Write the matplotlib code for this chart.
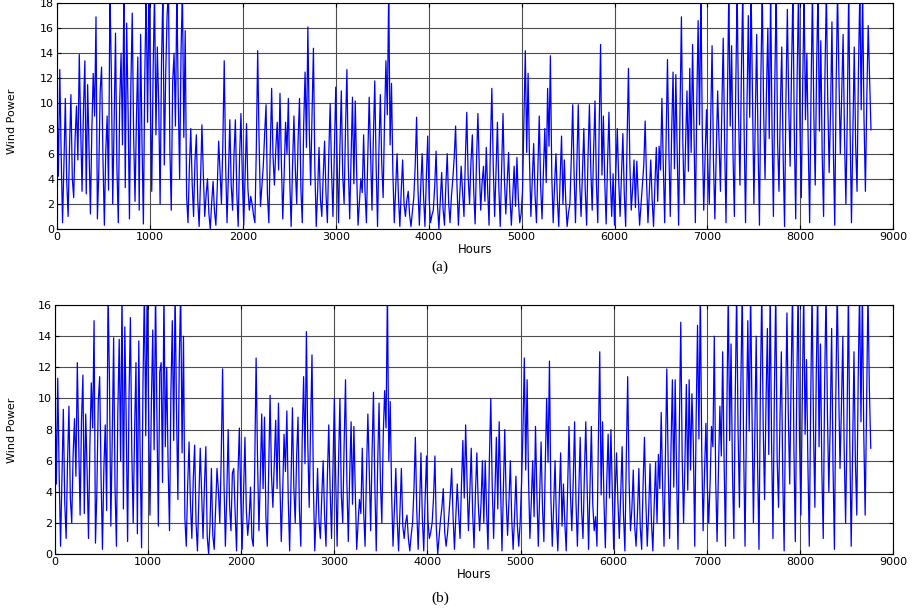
import numpy as np
import matplotlib
matplotlib.use('Agg')
import matplotlib.pyplot as plt

# hourly wind power at roughly 15 h spacing (peaks/troughs)
wind_a = [
    10.3, 4.2, 12.7, 6.0, 0.5, 5.2, 10.4, 3.8, 1.0, 6.5, 10.7, 4.0, 2.5, 7.2, 9.8, 5.5, 13.9, 8.1,
    3.0, 9.5, 13.4, 2.8, 11.5, 6.3, 1.2, 7.8, 12.4, 9.0, 16.9, 0.8, 4.5, 11.0, 12.9, 5.6, 0.3, 6.2,
    9.0, 3.1, 19, 12.5, 2.0, 8.4, 15.6, 4.9, 0.5, 10.1, 14.0, 6.7, 19, 3.3, 16.4, 9.6, 0.8, 11.3,
    17.2, 7.4, 2.2, 8.8, 13.7, 1.5, 15.5, 6.9, 0.4, 12.2, 19, 8.5, 19,
    10.6, 3.0, 12.8, 19, 7.5, 14.5, 9.9, 2.0, 13.2, 19, 5.1, 12.3, 17.0, 19, 6.4, 1.5, 11.7, 14,
    8.2, 19, 10.5, 4.0, 14.1, 19, 7.3, 15.8, 2.6, 0.5, 4.9, 8.0, 3.6, 1.0, 5.4, 7.5, 2.3, 0.2, 3.9,
    8.3, 4.4, 1.0, 2.7, 4.0, 1.2, 0.0, 2.1, 3.8, 1.4, 0.3, 3.3, 7.0, 4.6, 2.0, 6.8, 13.4, 5.2, 0.5,
    4.3, 8.7, 3.5, 1.5, 5.9, 8.7, 2.9, 0.2, 5.7, 9.2,
    4.1, 0.3, 4.5, 8.4, 3.2, 1.5, 2.6, 2.0, 1.1, 0.5, 6.3, 14.2, 7.0, 1.8, 3.4, 5.0, 7.6, 9.9, 2.7,
    0.5, 6.1, 11.2, 5.8, 3.5, 6.4, 8.5, 4.7, 10.8, 5.3, 0.8, 4.4, 8.5, 6.0, 10.4, 3.9, 0.2, 5.0,
    9.0, 4.8, 2.0, 7.1, 10.4, 3.2, 0.5, 8.3, 12.5, 6.5, 16.1, 8.0, 3.5, 9.2, 14.4, 4.9, 0.2, 3.0,
    6.5, 2.4, 1.0, 4.2, 7.0, 2.8, 0.5, 5.9, 10.0, 4.6, 1.0,
    6.2, 11.3, 5.4, 0.5, 6.6, 11.0, 4.3, 2.0, 7.9, 12.7, 5.1, 0.8, 5.7, 10.5, 3.6, 10.2, 4.5, 0.3,
    2.2, 4.0, 2.9, 7.5, 3.0, 0.5, 5.8, 10.5, 6.1, 1.5, 7.3, 11.8, 4.9, 0.2, 6.4, 10.7, 5.2, 2.5,
    8.6, 13.4, 9.1, 19, 6.7, 11.6, 4.4, 0.5, 3.3, 6.0, 2.5, 0.2, 3.1, 5.5, 2.0, 1.0, 2.3, 3.0, 1.1,
    0.2, 1.4, 2.5, 5.0, 8.9, 3.2, 0.3, 3.4, 6.0, 2.6, 0.2, 4.1, 7.4,
    2.4, 0.5, 1.1, 1.5, 3.4, 6.2, 1.9, 0.0, 2.2, 4.5, 1.6, 0.3, 3.5, 6.0, 2.1, 0.5, 2.6, 4.0, 5.7,
    8.2, 3.4, 0.3, 2.8, 5.0, 2.9, 1.0, 5.6, 9.3, 4.1, 2.0, 5.3, 7.5, 3.0, 0.4, 5.5, 9.2, 4.8, 1.5,
    3.7, 5.0, 2.2, 6.5, 3.1, 0.3, 6.9, 11.2, 5.0, 1.0, 4.6, 8.5, 3.3, 0.2, 4.7, 9.2, 4.0, 1.2, 3.6,
    6.1, 2.5, 0.3, 2.7, 5.0, 1.8, 5.7, 2.4, 0.5,
    1.2, 3.0, 8.8, 14.2, 6.1, 12.4, 5.5, 1.0, 3.9, 6.8, 2.7, 0.5, 4.8, 9.0, 3.4, 0.8, 4.6, 8.0, 3.7,
    11.2, 6.6, 13.8, 4.2, 0.5, 3.5, 6.0, 2.4, 0.2, 4.1, 7.4, 2.0, 5.5, 2.3, 0.2, 1.3, 2.0, 5.6, 9.9,
    4.4, 0.5, 5.3, 9.9, 3.7, 1.0, 4.5, 8.0, 3.1, 0.3, 5.8, 9.9, 4.7, 1.5, 6.2, 10.2, 3.6, 0.5, 8.1,
    14.7, 4.3, 9.0, 3.8, 0.4, 5.2, 9.3, 4.0, 1.0,
    4.4, 0.3, 4.7, 8.0, 3.9, 1.0, 4.2, 7.6, 2.8, 0.2, 6.9, 12.8, 5.3, 1.5, 3.2, 5.5, 1.7, 5.4, 2.6,
    0.3, 1.9, 3.5, 5.1, 8.6, 3.8, 0.5, 3.0, 5.5, 2.3, 0.2, 3.6, 6.5, 2.2, 6.6, 4.7, 10.4, 5.0, 0.5,
    7.2, 13.5, 6.3, 1.0, 7.7, 12.5, 4.8, 12.3, 5.9, 0.3, 9.4, 16.9, 7.0, 2.0, 6.8, 11.0, 4.6, 12.8,
    6.1, 14.7, 7.9, 0.5, 9.8, 16.6, 8.3, 19, 7.5, 1.5, 5.8, 9.5,
    4.9, 2.0, 8.7, 14.6, 5.4, 0.8, 6.2, 11.0, 7.1, 3.0, 9.6, 15.2, 6.8, 0.5, 10.3, 19, 8.2, 14.6,
    6.0, 1.0, 11.4, 19, 9.0, 3.5, 12.1, 19, 7.7, 0.5, 9.5, 17.0, 8.9, 19, 10.2, 2.0, 8.6, 15.5,
    6.4, 0.3, 12.0, 19, 9.3, 4.0, 10.8, 16.0, 7.2, 19, 8.1, 1.0, 11.6, 19, 6.9, 3.0, 9.7, 14.5,
    5.7, 0.2, 10.4, 17.5, 9.9, 5.0, 12.7, 19, 7.6, 0.8, 11.9, 19,
    8.4, 2.5, 11.3, 19, 8.7, 14.0, 6.6, 0.5, 10.9, 19, 9.2, 3.5, 13.0, 19, 7.8, 15.0, 5.9, 1.0,
    12.4, 19, 10.1, 4.5, 9.4, 16.5, 6.3, 0.3, 11.5, 19, 12.2, 6.0, 10.6, 15.5, 7.4, 2.0, 9.0, 19,
    8.1, 0.5, 7.3, 14.5, 6.7, 3.0, 12.6, 19, 9.5, 19, 8.8, 3.0, 10.4, 16.2, 12.0, 7.9,
]

wind_b = [
    10.6, 4.5, 11.3, 5.2, 0.5, 4.8, 9.3, 3.3, 1.0, 5.9, 9.5, 3.6, 2.0, 6.4, 8.7, 5.0, 12.3, 7.1,
    2.5, 8.6, 11.5, 2.6, 9.0, 5.4, 1.0, 7.0, 11.0, 8.1, 15.0, 0.7, 4.0, 9.8, 11.4, 5.0, 0.3, 5.5,
    8.3, 2.8, 17, 11.2, 1.8, 7.4, 13.9, 4.3, 0.5, 9.1, 13.8, 6.0, 17, 2.9, 14.6, 8.6, 0.8, 10.0,
    15.2, 6.6, 2.0, 7.9, 12.3, 1.3, 13.7, 6.2, 0.4, 10.9, 17, 7.6, 17,
    9.4, 2.5, 9.6, 14.4, 6.7, 17, 8.8, 1.8, 11.7, 12.3, 4.6, 17, 6.9, 12.0, 5.7, 1.5, 10.4, 15.0,
    7.3, 17, 9.3, 3.5, 12.5, 17, 6.5, 14.0, 2.3, 0.5, 4.4, 7.2, 3.2, 1.0, 4.8, 7.0, 2.0, 0.2, 3.5,
    6.8, 3.9, 1.0, 4.4, 6.9, 1.1, 0.0, 1.9, 5.5, 1.2, 0.3, 2.9, 5.5, 4.1, 2.0, 6.1, 11.9, 4.6, 0.5,
    3.8, 8.0, 3.1, 1.5, 5.2, 5.5, 2.6, 0.2, 5.1, 8.1,
    3.6, 0.3, 4.0, 7.5, 2.8, 1.2, 2.3, 4.3, 1.0, 0.5, 5.6, 12.6, 6.2, 1.5, 4.9, 9.0, 4.2, 8.8, 2.4,
    0.5, 5.4, 10.2, 5.1, 3.0, 5.7, 8.6, 4.2, 9.7, 4.7, 0.8, 3.9, 7.7, 5.3, 9.2, 3.5, 0.2, 4.6, 9.4,
    4.3, 2.0, 6.3, 8.8, 2.8, 0.5, 7.4, 11.4, 5.8, 14.3, 7.1, 3.0, 8.2, 12.8, 4.4, 0.2, 2.7, 5.5,
    2.1, 1.0, 3.7, 6.0, 2.5, 0.5, 4.9, 8.3, 4.1, 1.0,
    5.5, 10.0, 4.8, 0.5, 5.9, 10.0, 3.8, 2.0, 7.0, 11.2, 4.5, 0.8, 5.1, 8.5, 3.2, 8.2, 4.0, 0.3,
    2.0, 3.5, 2.6, 6.8, 2.7, 0.5, 5.2, 9.0, 5.4, 1.5, 6.5, 10.4, 4.4, 0.2, 5.7, 9.7, 4.6, 2.0, 7.6,
    10.5, 8.1, 17, 6.0, 9.8, 3.9, 0.5, 2.9, 5.5, 2.2, 0.2, 2.8, 5.5, 1.8, 1.0, 2.0, 2.5, 1.0, 0.2,
    1.2, 2.0, 4.2, 7.5, 2.8, 0.3, 3.0, 6.5, 2.3, 0.2, 3.6, 6.3,
    2.2, 1.0, 1.4, 2.0, 3.6, 6.3, 1.7, 0.0, 1.1, 2.2, 3.0, 4.2, 1.4, 0.5, 1.3, 2.5, 3.8, 5.5, 2.4,
    0.3, 2.5, 4.5, 2.6, 1.0, 4.4, 7.3, 3.6, 8.3, 4.7, 1.5, 4.0, 6.8, 2.7, 0.4, 3.9, 6.5, 3.3, 1.5,
    3.2, 6.0, 2.0, 6.0, 2.8, 0.3, 6.1, 10.0, 4.5, 1.0, 4.1, 7.5, 2.9, 8.5, 4.2, 0.2, 4.0, 8.0, 3.5,
    1.2, 3.4, 6.0, 2.2, 0.3, 2.4, 5.0, 1.9, 0.5,
    2.0, 4.5, 7.8, 12.6, 5.4, 11.2, 4.9, 1.0, 3.4, 6.0, 2.4, 8.2, 3.9, 0.5, 3.8, 7.2, 3.0, 0.8, 5.7,
    10.0, 5.9, 12.4, 3.7, 0.5, 3.1, 6.0, 2.1, 0.2, 3.6, 6.5, 1.8, 4.5, 2.0, 0.2, 4.1, 8.2, 3.9, 1.5,
    4.6, 8.5, 3.3, 0.5, 4.0, 7.5, 2.8, 1.0, 5.1, 8.5, 4.2, 0.3, 4.3, 8.2, 3.2, 1.5, 2.4, 0.5, 7.2,
    13.0, 3.8, 8.5, 3.4, 0.4, 4.6, 7.7, 3.6, 8.0,
    3.9, 0.3, 3.8, 6.5, 3.4, 1.0, 3.8, 6.9, 2.5, 0.2, 6.1, 11.4, 4.7, 1.5, 2.9, 5.4, 1.8, 0.5, 2.6,
    5.5, 1.7, 0.3, 4.4, 7.5, 3.4, 0.5, 2.7, 5.8, 2.1, 0.2, 3.2, 5.9, 2.0, 6.4, 4.2, 9.1, 4.4, 0.5,
    6.4, 11.9, 5.6, 1.0, 6.8, 11.2, 4.3, 11.2, 5.2, 0.3, 8.3, 14.9, 6.2, 2.0, 6.0, 10.9, 4.1, 11.2,
    5.4, 10.3, 7.0, 0.5, 8.7, 14.7, 7.4, 17, 6.7, 1.5, 5.2, 8.4,
    4.4, 2.0, 4.6, 8.2, 6.9, 14.0, 4.8, 0.8, 5.5, 9.5, 6.3, 13.0, 6.1, 0.5, 9.2, 17, 7.3, 13.5,
    5.3, 1.0, 10.1, 17, 8.0, 3.0, 10.8, 17, 6.9, 0.5, 8.4, 15.0, 7.9, 17, 9.1, 2.0, 7.7, 14.0,
    5.7, 0.3, 10.7, 17, 8.3, 3.5, 9.6, 14.5, 6.4, 17, 7.2, 1.0, 10.3, 17, 6.1, 3.0, 8.6, 13.0, 5.1,
    0.2, 9.3, 15.5, 8.8, 4.5, 11.3, 17, 6.8, 0.8, 10.6, 17,
    7.5, 2.5, 10.1, 17, 7.7, 12.5, 5.9, 0.5, 9.7, 17, 8.2, 3.0, 11.6, 17, 6.9, 13.5, 5.3, 1.0,
    11.0, 17, 9.0, 4.0, 8.4, 14.5, 5.6, 0.3, 10.2, 17, 10.9, 5.5, 9.4, 14.0, 6.6, 2.0, 8.0, 17,
    7.2, 0.5, 6.5, 13.0, 6.0, 2.5, 11.2, 17, 8.5, 17, 7.8, 2.5, 9.3, 17, 10.7, 6.8,
]

hours_a = np.linspace(0, 8760, len(wind_a))
hours_b = np.linspace(0, 8760, len(wind_b))

fig = plt.figure(figsize=(9.13, 6.09), dpi=100)
ax1 = fig.add_axes([0.0624, 0.624, 0.916, 0.371])
ax2 = fig.add_axes([0.0602, 0.0903, 0.918, 0.4087])


def style(ax, top, label_y):
    ax.set_xlim(0, 9000)
    ax.set_ylim(0, top)
    ax.set_xticks(np.arange(0, 9001, 1000))
    ax.set_yticks(np.arange(0, top + 1, 2))
    ax.grid(True, color='0.3', linewidth=0.8)
    ax.set_axisbelow(True)
    ax.tick_params(direction='in', length=3, top=True, right=True, labelsize=8, pad=2)
    for s in ax.spines.values():
        s.set_linewidth(0.8)
    ax.set_xlabel('Hours', fontsize=8.5, labelpad=1)
    fig.text(0.013, label_y, 'Wind Power', rotation=90, va='center', ha='center',
             fontsize=8, family=['Liberation Sans Narrow', 'DejaVu Sans'])


ax1.plot(hours_a, wind_a, color='#0000ff', linewidth=0.9)
style(ax1, 18, 0.80)
ax2.plot(hours_b, wind_b, color='#0000ff', linewidth=0.9)
style(ax2, 16, 0.294)

fig.text(0.482, 1 - 267 / 609, '(a)', ha='center', va='center', fontsize=11, family='Liberation Serif')
fig.text(0.482, 1 - 598 / 609, '(b)', ha='center', va='center', fontsize=11, family='Liberation Serif')

fig.savefig('out.png', dpi=100)
